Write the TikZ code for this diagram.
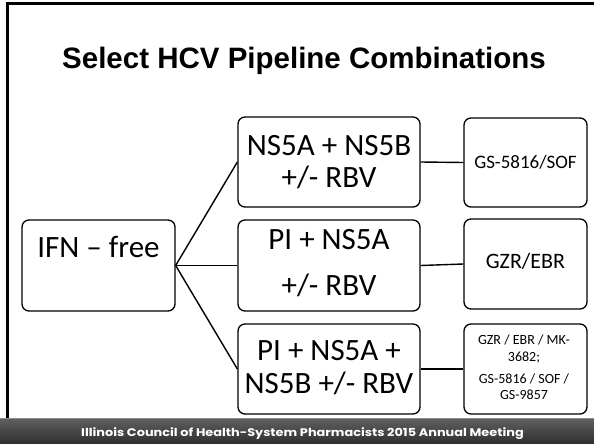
\documentclass[tikz,border=0pt]{standalone}
\usepackage{fontspec}
\setmainfont{Carlito}
\newfontfamily\titlefont{Liberation Sans}
\newfontfamily\footfont{Poppins}
\begin{document}
\begin{tikzpicture}[x=1pt,y=-1pt,
  box/.style={draw=black, line width=1.3pt, rounded corners=7pt, inner sep=0pt},
  link/.style={draw=black, line width=1.4pt},
  txt/.style={anchor=base, inner sep=0pt},
  big/.style={txt, font=\fontsize{31}{31}\selectfont},
]
\useasboundingbox (0,0) rectangle (594,444);

% slide frame and footer band
\draw[line width=3pt] (7.5,418) -- (7.5,3.5) -- (594,3.5);
\shade[top color=black!62, bottom color=black!82] (0,418) rectangle (594,444);
\draw[black!45, line width=0.8pt] (0,418.4) -- (594,418.4);
\node[text=white, inner sep=0pt] (foot) at (302.5,433.5)
  {\scalebox{1.17}[1]{\footfont\bfseries\fontsize{11}{11}\selectfont Illinois Council of Health-System Pharmacists 2015 Annual Meeting}};

% title
\node[anchor=base west, inner sep=0pt] (title) at (62,68)
  {\titlefont\bfseries\fontsize{29.5}{29.5}\selectfont Select HCV Pipeline Combinations};

% boxes
\node[box, minimum width=153pt, minimum height=91pt] (ifn) at (98.5,265.5) {};
\node[box, minimum width=182pt, minimum height=90pt] (m1) at (329,162) {};
\node[box, minimum width=182pt, minimum height=91pt] (m2) at (329,265.5) {};
\node[box, minimum width=182pt, minimum height=90pt] (m3) at (329,369) {};
\node[box, minimum width=123pt, minimum height=89pt] (r1) at (525.5,162.5) {};
\node[box, minimum width=123pt, minimum height=90pt] (r2) at (525.5,264) {};
\node[box, minimum width=123pt, minimum height=90pt] (r3) at (525.5,369) {};

% connectors
\draw[link] (ifn.east) -- (m1.west);
\draw[link] (ifn.east) -- (m2.west);
\draw[link] (ifn.east) -- (m3.west);
\draw[link] (m1.east) -- (r1.west);
\draw[link] (m2.east) -- (r2.west);
\draw[link] (m3.east) -- (r3.west);

% box texts
\node[big] (ifnt) at (98.5,257) {IFN – free};
\node[big] (m1a) at (329,155) {NS5A + NS5B};
\node[big] (m1b) at (329,187) {+/- RBV};
\node[big] (m2a) at (329,249) {PI + NS5A};
\node[big] (m2b) at (329,295) {+/- RBV};
\node[big] (m3a) at (329,360) {PI + NS5A +};
\node[big] (m3b) at (329,393) {NS5B +/- RBV};
\node[txt, font=\fontsize{19}{19}\selectfont] (r1t) at (525.5,168) {GS-5816/SOF};
\node[txt, font=\fontsize{22}{22}\selectfont] (r2t) at (525.5,268) {GZR/EBR};
\node[txt, font=\fontsize{14}{14}\selectfont] (r3a) at (524,344) {GZR / EBR / MK-};
\node[txt, font=\fontsize{14}{14}\selectfont] (r3b) at (524,361) {3682;};
\node[txt, font=\fontsize{14}{14}\selectfont] (r3c) at (524,383) {GS-5816 / SOF /};
\node[txt, font=\fontsize{14}{14}\selectfont] (r3d) at (524,399) {GS-9857};
\end{tikzpicture}
\end{document}
